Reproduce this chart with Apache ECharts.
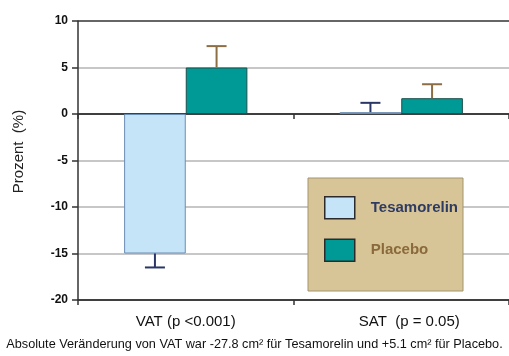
<!DOCTYPE html>
<html>
<head>
<meta charset="utf-8">
<script src="https://cdn.jsdelivr.net/npm/echarts@6/dist/echarts.min.js"></script>
<style>
html,body{margin:0;padding:0;background:#fff;}
#chart{width:509px;height:356px;}
</style>
</head>
<body>
<div id="chart"></div>
<script>
// Change in fat compartments (%), mean with error bar end
const categories = ['VAT (p <0.001)', 'SAT  (p = 0.05)'];
const tesamorelin = [-15, 0.2];
const tesamorelinErr = [-16.5, 1.2];
const placebo = [5, 1.7];
const placeboErr = [7.3, 3.2];
const yTicks = [-20, -15, -10, -5, 0, 5, 10];
const caption = 'Absolute Veränderung von VAT war -27.8 cm² für Tesamorelin und +5.1 cm² für Placebo.';

const BAR_FRAC = 0.286;

function errorRenderer(side, color) {
  return function (params, api) {
    const cat = api.value(0);
    const base = api.coord([cat, api.value(1)]);
    const tip = api.coord([cat, api.value(2)]);
    const band = api.size([1, 0])[0];
    const x = base[0] + side * band * BAR_FRAC / 2;
    const cap = 10;
    const style = { stroke: color, lineWidth: 2 };
    return {
      type: 'group',
      children: [
        { type: 'line', shape: { x1: x, y1: base[1], x2: x, y2: tip[1] }, style: style },
        { type: 'line', shape: { x1: x - cap, y1: tip[1], x2: x + cap, y2: tip[1] }, style: style }
      ]
    };
  };
}

const chart = echarts.init(document.getElementById('chart'));
chart.setOption({
  animation: false,
  textStyle: { fontFamily: 'Liberation Sans, Arial, sans-serif' },
  grid: { left: 78, right: -3, top: 21, bottom: 56 },
  legend: {
    orient: 'vertical',
    left: 308, top: 178,
    padding: [18, 5, 29, 16],
    itemWidth: 30, itemHeight: 22, itemGap: 19,
    backgroundColor: '#d8c597',
    borderColor: '#a39470', borderWidth: 1,
    icon: 'rect',
    textStyle: { fontSize: 15, fontWeight: 'bold', padding: [0, 0, 0, 11] },
    data: [
      { name: 'Tesamorelin', textStyle: { color: '#2e3b63' }, itemStyle: { borderColor: '#2b2b2b', borderWidth: 1.5 } },
      { name: 'Placebo', textStyle: { color: '#8a6a3c' }, itemStyle: { borderColor: '#2b2b2b', borderWidth: 1.5 } }
    ]
  },
  xAxis: [
    {
      type: 'category', position: 'bottom',
      data: [
        { value: categories[0] },
        { value: categories[1], textStyle: { padding: [0, 0, 0, 16] } }
      ],
      axisLine: { onZero: false, lineStyle: { color: '#333', width: 1.5 } },
      axisTick: { show: true, length: 5, lineStyle: { color: '#333', width: 1.5 } },
      axisLabel: { color: '#111', fontSize: 15, margin: 14 }
    },
    {
      type: 'category', data: categories, position: 'bottom',
      axisLine: { onZero: true, lineStyle: { color: '#333', width: 1.5 } },
      axisTick: { show: true, length: 5, lineStyle: { color: '#333', width: 1.5 } },
      axisLabel: { show: false }
    }
  ],
  yAxis: {
    type: 'value', min: yTicks[0], max: yTicks[yTicks.length - 1], interval: 5,
    name: 'Prozent  (%)', nameLocation: 'middle', nameGap: 52,
    nameTextStyle: { fontSize: 15, color: '#222', padding: [0, 0, 0, 18] },
    axisLine: { show: true, lineStyle: { color: '#333', width: 1.5 } },
    axisTick: { show: true, length: 6, lineStyle: { color: '#333', width: 1.5 } },
    axisLabel: { color: '#111', fontWeight: 'bold', fontSize: 12, margin: 10 },
    splitLine: { show: true, lineStyle: { color: ['#333', '#b4b4b4', '#b4b4b4', '#b4b4b4', '#333', '#b4b4b4', '#333'], width: 1.5 } }
  },
  series: [
    {
      name: 'Tesamorelin', type: 'bar', data: tesamorelin, barWidth: (BAR_FRAC * 100) + '%', barGap: '0%',
      itemStyle: { color: '#c6e4f7', borderColor: '#6a8db4', borderWidth: 1 }
    },
    {
      name: 'Placebo', type: 'bar', data: placebo, barWidth: (BAR_FRAC * 100) + '%', barGap: '0%',
      itemStyle: { color: '#009a96', borderColor: '#1d4f4b', borderWidth: 1 }
    },
    {
      type: 'custom', renderItem: errorRenderer(-1, '#2a3766'), z: 5,
      data: categories.map((c, i) => [i, tesamorelin[i], tesamorelinErr[i]])
    },
    {
      type: 'custom', renderItem: errorRenderer(1, '#8d6d44'), z: 5,
      data: categories.map((c, i) => [i, placebo[i], placeboErr[i]])
    }
  ],
  graphic: [
    {
      type: 'text', left: 'center', top: 338,
      style: { text: caption, fontSize: 12.7, fill: '#111', fontFamily: 'Liberation Sans, Arial, sans-serif' }
    }
  ]
});
</script>
</body>
</html>
